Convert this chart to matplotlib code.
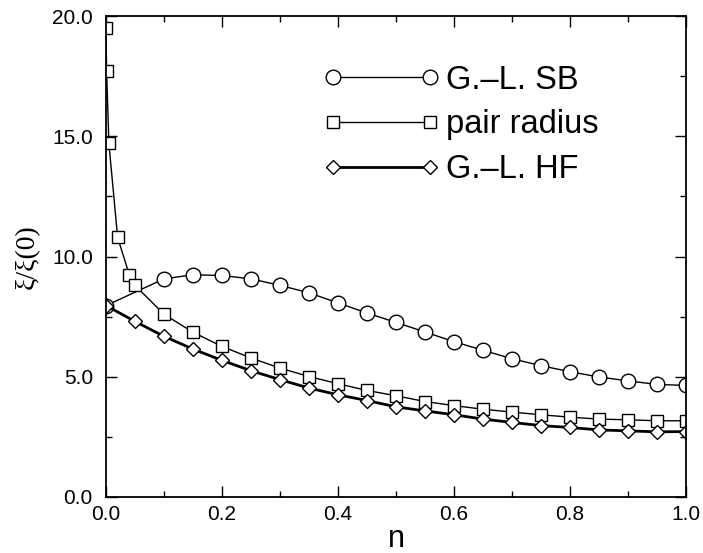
import matplotlib
matplotlib.use("Agg")
import matplotlib.pyplot as plt
from matplotlib.ticker import MultipleLocator

# G.-L. SB (circles)
n_sb = [0.0, 0.1, 0.15, 0.2, 0.25, 0.3, 0.35, 0.4, 0.45, 0.5, 0.55, 0.6, 0.65,
        0.7, 0.75, 0.8, 0.85, 0.9, 0.95, 1.0]
xi_sb = [7.96, 9.07, 9.24, 9.21, 9.07, 8.80, 8.49, 8.07, 7.65, 7.26, 6.86, 6.46,
         6.10, 5.75, 5.46, 5.21, 4.99, 4.83, 4.68, 4.64]

# pair radius (squares)
n_pr = [0.0, 0.001, 0.005, 0.02, 0.04, 0.05, 0.1, 0.15, 0.2, 0.25, 0.3, 0.35,
        0.4, 0.45, 0.5, 0.55, 0.6, 0.65, 0.7, 0.75, 0.8, 0.85, 0.9, 0.95, 1.0]
xi_pr = [19.5, 17.7, 14.7, 10.8, 9.25, 8.8, 7.6, 6.85, 6.26, 5.78, 5.36, 5.01,
         4.71, 4.43, 4.21, 3.97, 3.80, 3.65, 3.53, 3.42, 3.32, 3.24, 3.21, 3.17, 3.17]

# G.-L. HF (diamonds)
n_hf = [0.0, 0.05, 0.1, 0.15, 0.2, 0.25, 0.3, 0.35, 0.4, 0.45, 0.5, 0.55, 0.6,
        0.65, 0.7, 0.75, 0.8, 0.85, 0.9, 0.95, 1.0]
xi_hf = [7.96, 7.30, 6.68, 6.15, 5.68, 5.25, 4.88, 4.53, 4.25, 4.01, 3.75, 3.58,
         3.42, 3.24, 3.10, 2.97, 2.89, 2.79, 2.75, 2.71, 2.72]

labels = ["G.\u2013L. SB", "pair radius", "G.\u2013L. HF"]

plt.rcParams['font.family'] = ['Liberation Sans', 'DejaVu Sans']

fig = plt.figure(figsize=(7.03, 5.53), dpi=100)
ax = fig.add_axes([106/703, 1-497/553, 580/703, 481/553])

ax.plot(n_sb, xi_sb, color='black', lw=1.0, marker='o', ms=10.5, mfc='white',
        mec='black', mew=1.0, label=labels[0])
ax.plot(n_pr, xi_pr, color='black', lw=1.0, marker='s', ms=8.5, mfc='white',
        mec='black', mew=1.0, label=labels[1])
ax.plot(n_hf, xi_hf, color='black', lw=2.0, marker='D', ms=7.5, mfc='white',
        mec='black', mew=1.0, label=labels[2])

ax.set_xlim(0.0, 1.0)
ax.set_ylim(0.0, 20.0)
ax.xaxis.set_major_locator(MultipleLocator(0.2))
ax.xaxis.set_minor_locator(MultipleLocator(0.1))
ax.yaxis.set_major_locator(MultipleLocator(5.0))
ax.yaxis.set_minor_locator(MultipleLocator(2.5))
ax.xaxis.set_major_formatter(plt.FormatStrFormatter('%.1f'))
ax.yaxis.set_major_formatter(plt.FormatStrFormatter('%.1f'))
ax.tick_params(which='both', direction='in', top=True, right=True, width=1.0)
ax.tick_params(which='major', length=8, labelsize=15)
ax.tick_params(axis='x', which='major', pad=6)
ax.tick_params(axis='y', which='major', pad=9.5)
ax.tick_params(which='minor', length=4)
for s in ax.spines.values():
    s.set_linewidth(1.3)

ax.set_xlabel('n', fontsize=22, labelpad=0)
ax.set_ylabel('\u03be/\u03be(0)', fontsize=20, family=['Liberation Serif'], labelpad=9)

leg = ax.legend(loc='upper left', bbox_to_anchor=(0.375, 0.899), frameon=False,
                numpoints=2, handlelength=3.57, handletextpad=0.17,
                labelspacing=0.42, fontsize=23.5, borderaxespad=0, borderpad=0)

fig.savefig('out.png', dpi=100)
